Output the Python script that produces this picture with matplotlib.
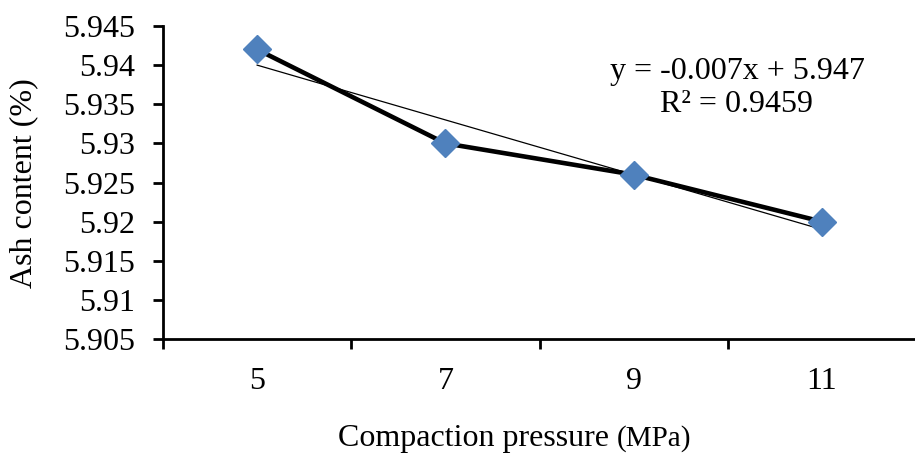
import numpy as np
import matplotlib
matplotlib.use("Agg")
import matplotlib.pyplot as plt

categories = ["5", "7", "9", "11"]
ash = [5.942, 5.930, 5.926, 5.920]
yticks = [5.905, 5.91, 5.915, 5.92, 5.925, 5.93, 5.935, 5.94, 5.945]
ytick_labels = ["5.905", "5.91", "5.915", "5.92", "5.925", "5.93", "5.935", "5.94", "5.945"]

plt.rcParams['font.family'] = ['Liberation Serif', 'DejaVu Serif']

fig = plt.figure(figsize=(9.15, 4.57), dpi=100)
ax = fig.add_axes([163/915, 1-339/457, (916-163)/915, (339-26)/457])

pos = np.arange(len(categories))
# Excel linear trendline uses x = 1..n
xs = pos + 1
slope, intercept = np.polyfit(xs, ash, 1)
fit = slope * xs + intercept
r2 = 1 - np.sum((np.array(ash) - fit) ** 2) / np.sum((np.array(ash) - np.mean(ash)) ** 2)

ax.plot(pos, ash, color='black', lw=3.3, zorder=2, solid_joinstyle='round')
ax.plot(pos, fit, color='black', lw=0.9, zorder=3)
ax.plot(pos, ash, linestyle='none', marker='D', ms=14, color='#4F81BD', zorder=4)

ax.set_xlim(-0.5, len(categories) - 0.5)
ax.set_ylim(5.905, 5.945)
ax.set_yticks(yticks)
ax.set_yticklabels(ytick_labels)
ax.set_xticks(pos)
ax.set_xticklabels(categories)
ax.set_xticks(np.arange(-0.5, len(categories), 1.0), minor=True)
ax.tick_params(axis='x', which='major', length=0, pad=20, labelsize=23)
ax.tick_params(axis='x', which='minor', length=7, width=2, direction='out')
ax.tick_params(axis='y', length=7, width=2, direction='out', labelsize=23, pad=13)

for s in ['top', 'right']:
    ax.spines[s].set_visible(False)
for s in ['left', 'bottom']:
    ax.spines[s].set_linewidth(2)

fig.text(24/915, 1-183/457, "Ash content (%)", fontsize=23, rotation=90, ha='center', va='center')

fig.text(617/915, 1-446/457, "Compaction pressure ", fontsize=23, ha='right', va='baseline')
fig.text(617/915, 1-446/457, "(MPa)", fontsize=21, ha='left', va='baseline')

eq = f"y = {slope:.3f}x + {intercept:.3f}\nR\u00b2 = {r2:.4f}"
fig.text(737/915, 1-88/457, eq, fontsize=23, ha='center', va='center', linespacing=1.2)

fig.savefig("out.png", dpi=100)
